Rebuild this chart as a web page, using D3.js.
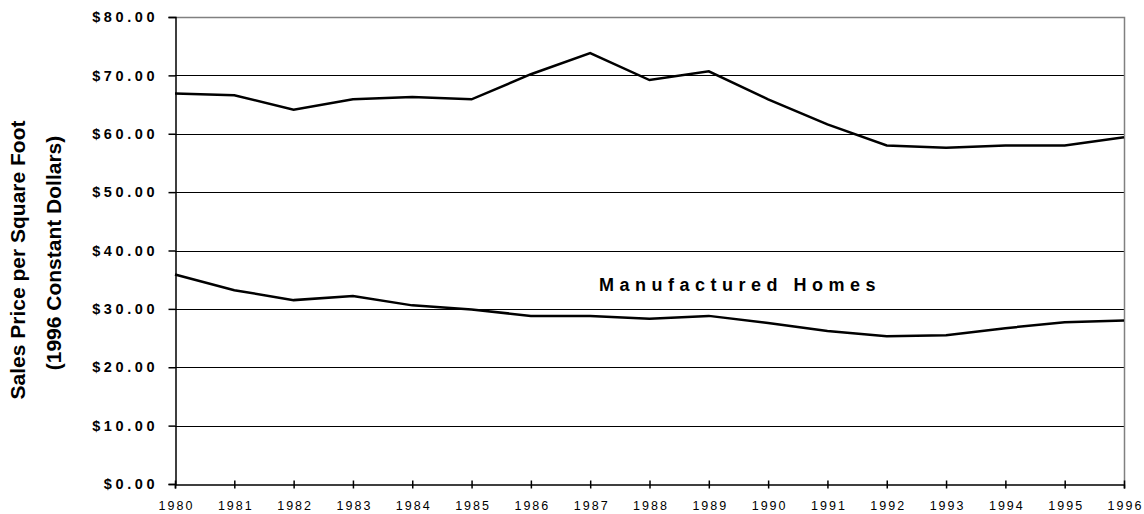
<!DOCTYPE html>
<html>
<head>
<meta charset="utf-8">
<script src="https://cdn.jsdelivr.net/npm/d3@7"></script>
<style>
  body { margin: 0; background: #fff; }
  text { font-family: "Liberation Sans", Arial, sans-serif; fill: #000; }
</style>
</head>
<body>
<div id="chart"></div>
<script>
// data
var years = [1980, 1981, 1982, 1983, 1984, 1985, 1986, 1987, 1988, 1989, 1990, 1991, 1992, 1993, 1994, 1995, 1996];
var siteBuilt = [66.9, 66.6, 64.1, 65.9, 66.3, 65.9, 70.2, 73.8, 69.2, 70.7, 65.9, 61.6, 58.0, 57.6, 58.0, 58.0, 59.4];
var manufactured = [35.9, 33.2, 31.5, 32.2, 30.6, 29.9, 28.8, 28.8, 28.3, 28.8, 27.6, 26.2, 25.3, 25.5, 26.7, 27.7, 28.0];
var yTicks = [0, 10, 20, 30, 40, 50, 60, 70, 80];
var yTitle = ["Sales Price per Square Foot", "(1996 Constant Dollars)"];
var seriesLabel = "Manufactured Homes";

var width = 1144, height = 514;
var plot = { left: 175, right: 1124, top: 17, bottom: 484 };

var svg = d3.select("#chart")
    .append("svg")
    .attr("width", width)
    .attr("height", height);

var x = d3.scaleLinear().domain([1980, 1996]).range([plot.left, plot.right]);
var y = d3.scaleLinear().domain([0, 80]).range([plot.bottom, plot.top]);

// gridlines
svg.append("g")
    .selectAll("line")
    .data(yTicks.filter(function(d) { return d > 0 && d < 80; }))
    .enter()
    .append("line")
    .attr("x1", plot.left)
    .attr("x2", plot.right)
    .attr("y1", function(d) { return Math.round(y(d)) + 0.5; })
    .attr("y2", function(d) { return Math.round(y(d)) + 0.5; })
    .attr("stroke", "#000")
    .attr("stroke-width", 1);

// top + right border (grey)
svg.append("path")
    .attr("d", "M" + plot.left + "," + (Math.round(y(80)) + 0.5) + "H" + (plot.right + 0.5) + "V" + plot.bottom)
    .attr("fill", "none")
    .attr("stroke", "#808080")
    .attr("stroke-width", 1.5);

// y axis
var yAxis = svg.append("g")
    .attr("transform", "translate(" + (plot.left + 0.5) + ",0)")
    .call(d3.axisLeft(y)
        .tickValues(yTicks)
        .tickSize(7)
        .tickPadding(14)
        .tickFormat(function(d) { return "$" + d.toFixed(2); }));
yAxis.select(".domain").attr("stroke", "#000").attr("stroke-width", 1.5);
yAxis.selectAll(".tick line").attr("stroke", "#000").attr("stroke-width", 1.5);
yAxis.selectAll(".tick text")
    .attr("dx", "3.6px")
    .style("font-size", "14.5px")
    .style("font-weight", "bold")
    .style("letter-spacing", "3.6px")
    .style("font-family", "'Liberation Sans', Arial, sans-serif");

// x axis
var xAxis = svg.append("g")
    .attr("transform", "translate(0," + (plot.bottom + 0.5) + ")")
    .call(d3.axisBottom(x)
        .tickValues(years)
        .tickSize(4)
        .tickPadding(13)
        .tickFormat(d3.format("d")));
xAxis.select(".domain").attr("stroke", "#000").attr("stroke-width", 1.5);
xAxis.selectAll(".tick line")
    .attr("y1", -4)
    .attr("stroke", "#000")
    .attr("stroke-width", 1.5);
xAxis.selectAll(".tick text")
    .attr("dx", "1px")
    .style("font-size", "12.5px")
    .style("letter-spacing", "2px")
    .style("font-family", "'Liberation Sans', Arial, sans-serif");

// lines
var line = d3.line()
    .x(function(d, i) { return x(years[i]); })
    .y(function(d) { return y(d); });

svg.append("path")
    .datum(siteBuilt)
    .attr("d", line)
    .attr("fill", "none")
    .attr("stroke", "#000")
    .attr("stroke-width", 2.5);

svg.append("path")
    .datum(manufactured)
    .attr("d", line)
    .attr("fill", "none")
    .attr("stroke", "#000")
    .attr("stroke-width", 2.5);

// series label
svg.append("text")
    .attr("x", 599)
    .attr("y", 291)
    .style("font-size", "18px")
    .style("font-weight", "bold")
    .style("letter-spacing", "5.5px")
    .text(seriesLabel);

// y title
svg.append("text")
    .attr("transform", "translate(25,260) rotate(-90)")
    .attr("text-anchor", "middle")
    .style("font-size", "21px")
    .style("font-weight", "bold")
    .text(yTitle[0]);

svg.append("text")
    .attr("transform", "translate(61,253) rotate(-90)")
    .attr("text-anchor", "middle")
    .style("font-size", "21px")
    .style("font-weight", "bold")
    .text(yTitle[1]);
</script>
</body>
</html>
